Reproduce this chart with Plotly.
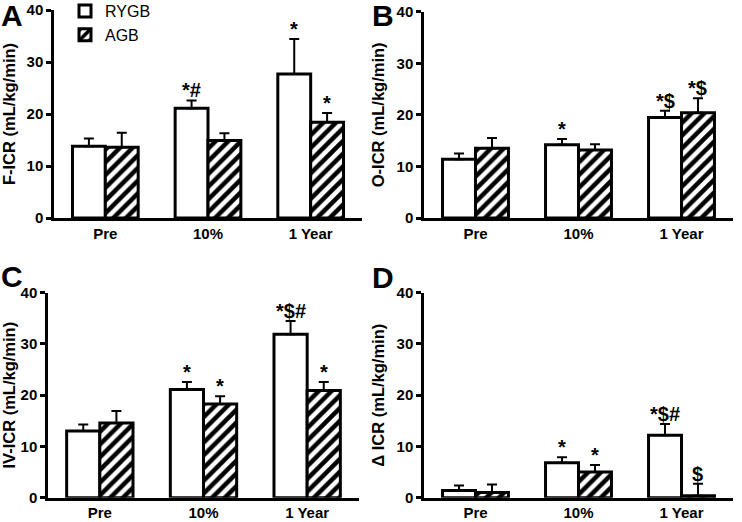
import plotly.graph_objects as go

categories = ["Pre", "10%", "1 Year"]
series_names = ["RYGB", "AGB"]

# Panel A: F-ICR
f_icr_rygb = [13.8, 21.1, 27.7]
f_icr_rygb_sem = [1.5, 1.5, 6.7]
f_icr_agb = [13.6, 14.9, 18.4]
f_icr_agb_sem = [2.8, 1.4, 1.8]
f_icr_rygb_sig = ["", "*#", "*"]
f_icr_agb_sig = ["", "", "*"]

# Panel B: O-ICR
o_icr_rygb = [11.4, 14.2, 19.5]
o_icr_rygb_sem = [1.1, 1.1, 1.3]
o_icr_agb = [13.5, 13.2, 20.4]
o_icr_agb_sem = [2.0, 1.1, 2.8]
o_icr_rygb_sig = ["", "*", "*$"]
o_icr_agb_sig = ["", "", "*$"]

# Panel C: IV-ICR
iv_icr_rygb = [13.0, 21.1, 31.9]
iv_icr_rygb_sem = [1.3, 1.5, 2.6]
iv_icr_agb = [14.6, 18.3, 20.9]
iv_icr_agb_sem = [2.3, 1.5, 1.7]
iv_icr_rygb_sig = ["", "*", "*$#"]
iv_icr_agb_sig = ["", "*", "*"]

# Panel D: delta ICR
d_icr_rygb = [1.4, 6.8, 12.2]
d_icr_rygb_sem = [1.0, 1.1, 2.2]
d_icr_agb = [1.0, 5.0, 0.4]
d_icr_agb_sem = [1.6, 1.4, 2.3]
d_icr_rygb_sig = ["", "*", "*$#"]
d_icr_agb_sig = ["", "*", "$"]

panel_letters = ["A", "B", "C", "D"]
y_titles = ["F-ICR (mL/kg/min)", "O-ICR (mL/kg/min)", "IV-ICR (mL/kg/min)", "\u0394 ICR (mL/kg/min)"]
y_ticks = [0, 10, 20, 30, 40]

panels = [
    (f_icr_rygb, f_icr_rygb_sem, f_icr_agb, f_icr_agb_sem, f_icr_rygb_sig, f_icr_agb_sig),
    (o_icr_rygb, o_icr_rygb_sem, o_icr_agb, o_icr_agb_sem, o_icr_rygb_sig, o_icr_agb_sig),
    (iv_icr_rygb, iv_icr_rygb_sem, iv_icr_agb, iv_icr_agb_sem, iv_icr_rygb_sig, iv_icr_agb_sig),
    (d_icr_rygb, d_icr_rygb_sem, d_icr_agb, d_icr_agb_sem, d_icr_rygb_sig, d_icr_agb_sig),
]

W, H = 742, 522
FONT = "Liberation Sans, Arial, sans-serif"
BARGAP = 0.36

# pixel boxes of each plot area: (left, right, top, bottom)
boxes = [
    (54, 362, 10, 218),
    (424, 733, 11.7, 218),
    (48, 359, 292.7, 497.7),
    (424, 733, 292.7, 497.7),
]
# panel letter glyph centres (px)
letter_pos = [(-1, 15.5), (370, 15.5), (-1, 276), (370, 277)]

fig = go.Figure()
layout = dict(
    width=W, height=H,
    margin=dict(l=0, r=0, t=0, b=0, autoexpand=False),
    paper_bgcolor="white", plot_bgcolor="white",
    barmode="group", bargap=BARGAP, bargroupgap=0,
    font=dict(family=FONT, color="black"),
    showlegend=True,
    legend=dict(x=65 / W, y=1 + 6 / H, xanchor="left", yanchor="top",
                font=dict(size=16, family=FONT), bgcolor="rgba(0,0,0,0)",
                tracegroupgap=0, itemwidth=30),
)
annotations = []
offset = (1 - BARGAP) / 4

for i, (r, rs, a, asem, rsig, asig) in enumerate(panels):
    n = i + 1
    xa = "x" if n == 1 else f"x{n}"
    ya = "y" if n == 1 else f"y{n}"
    fig.add_trace(go.Bar(
        x=categories, y=r, name=series_names[0], xaxis=xa, yaxis=ya,
        marker=dict(color="white", line=dict(color="black", width=3)),
        error_y=dict(type="data", array=rs, symmetric=False, arrayminus=[0] * len(rs),
                     color="black", thickness=2, width=5),
        showlegend=(n == 1), legendgroup="rygb",
    ))
    fig.add_trace(go.Bar(
        x=categories, y=a, name=series_names[1], xaxis=xa, yaxis=ya,
        marker=dict(color="white", line=dict(color="black", width=3),
                    pattern=dict(shape="/", fgcolor="black", bgcolor="white",
                                 fgopacity=1, size=9, solidity=0.5)),
        error_y=dict(type="data", array=asem, symmetric=False, arrayminus=[0] * len(asem),
                     color="black", thickness=2, width=5),
        showlegend=(n == 1), legendgroup="agb",
    ))
    l, rr, t, b = boxes[i]
    layout[f"xaxis{'' if n == 1 else n}"] = dict(
        domain=[l / W, rr / W], anchor=ya, range=[-0.5, 2.5], automargin=False,
        showline=True, linecolor="black", linewidth=2.5, ticks="",
        showgrid=False, zeroline=False, ticklabelstandoff=0,
        tickfont=dict(size=15, family=FONT, weight="bold"),
        type="category", categoryorder="array", categoryarray=categories,
    )
    layout[f"yaxis{'' if n == 1 else n}"] = dict(
        domain=[1 - b / H, 1 - t / H], anchor=xa, range=[0, 40], automargin=False,
        tickvals=y_ticks, showline=True, linecolor="black", linewidth=2.5,
        ticks="outside", ticklen=5, tickwidth=2.5, tickcolor="black",
        showgrid=False, zeroline=False,
        tickfont=dict(size=15, family=FONT, weight="bold"),
        title=dict(text=y_titles[i], font=dict(size=16.5, family=FONT, weight="bold"), standoff=8),
    )
    for vals, sems, sigs, sgn in ((r, rs, rsig, -1), (a, asem, asig, 1)):
        for k, s in enumerate(sigs):
            if s:
                annotations.append(dict(
                    x=k + sgn * offset, y=vals[k] + sems[k], xref=xa, yref=ya,
                    text=s, showarrow=False, yanchor="bottom", xanchor="center",
                    yshift=-3, font=dict(size=20, family=FONT, weight="bold"),
                ))
    lx, ly = letter_pos[i]
    annotations.append(dict(
        x=lx / W, y=1 - ly / H, xref="paper", yref="paper", xanchor="left", yanchor="middle",
        text=panel_letters[i], showarrow=False,
        font=dict(size=30, family=FONT, weight="bold"),
    ))

layout["annotations"] = annotations
fig.update_layout(**layout)
fig.write_html("out.html", config={"displayModeBar": False},
               post_script="document.body.style.margin='0';")
